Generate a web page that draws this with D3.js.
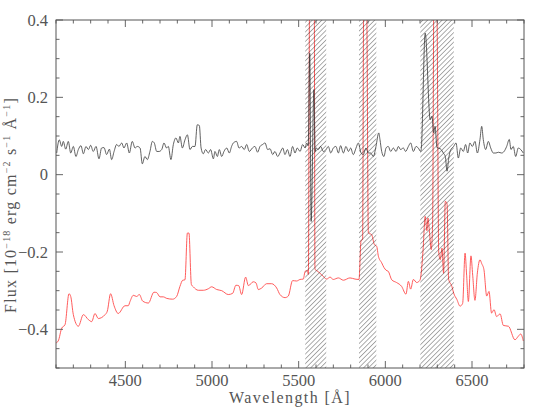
<!DOCTYPE html>
<html>
<head>
<meta charset="utf-8">
<script src="https://cdn.jsdelivr.net/npm/d3@7"></script>
<style>
  body { margin: 0; background: #fff; }
  text { font-family: "Liberation Serif", serif; fill: #555; }
</style>
</head>
<body>
<div id="canvas"></div>
<script>
// Black spectrum (upper)
var waveBlack = [4104, 4119, 4133, 4142, 4156, 4171, 4185, 4200, 4215, 4229, 4244, 4258, 4273, 4287, 4300,
  4315, 4331, 4348, 4363, 4377, 4392, 4408, 4421, 4435, 4450, 4463, 4479, 4492, 4508, 4523, 4540, 4556,
  4569, 4585, 4598, 4613, 4627, 4642, 4656, 4667, 4681, 4694, 4710, 4723, 4738, 4748, 4763, 4777, 4792,
  4806, 4815, 4829, 4844, 4858, 4873, 4887, 4902, 4915, 4927, 4937, 4950, 4963, 4979, 4992, 5008, 5017,
  5031, 5042, 5056, 5069, 5085, 5100, 5113, 5123, 5142, 5156, 5171, 5186, 5200, 5215, 5233, 5248, 5263,
  5277, 5292, 5306, 5321, 5335, 5350, 5363, 5379, 5392, 5408, 5421, 5435, 5450, 5465, 5479, 5492, 5508,
  5523, 5537, 5546, 5555, 5564, 5572, 5588, 5595, 5600, 5613, 5627, 5642, 5658, 5671, 5685, 5700, 5715,
  5729, 5742, 5758, 5773, 5787, 5800, 5815, 5831, 5844, 5860, 5873, 5888, 5902, 5915, 5931, 5946, 5962,
  5969, 5979, 5992, 6004, 6017, 6031, 6046, 6062, 6075, 6088, 6104, 6117, 6133, 6146, 6162, 6177, 6190,
  6204, 6207, 6230, 6259, 6269, 6279, 6287, 6298, 6317, 6336, 6346, 6356, 6365, 6375, 6394, 6408, 6421,
  6435, 6450, 6463, 6475, 6488, 6502, 6517, 6531, 6546, 6556, 6565, 6579, 6594, 6608, 6623, 6638, 6652,
  6671, 6685, 6700, 6715, 6725, 6738, 6752, 6767, 6781, 6796];
var fluxBlack = [0.056, 0.090, 0.073, 0.086, 0.066, 0.086, 0.056, 0.073, 0.047, 0.065, 0.075, 0.054, 0.073, 0.065, 0.076,
  0.060, 0.073, 0.041, 0.069, 0.070, 0.052, 0.066, 0.039, 0.060, 0.078, 0.073, 0.082, 0.069, 0.082, 0.056, 0.086, 0.069,
  0.073, 0.069, 0.028, 0.047, 0.039, 0.060, 0.086, 0.082, 0.060, 0.060, 0.065, 0.082, 0.069, 0.073, 0.039, 0.078, 0.095,
  0.082, 0.099, 0.069, 0.090, 0.103, 0.065, 0.073, 0.073, 0.129, 0.127, 0.069, 0.054, 0.065, 0.056, 0.065, 0.041, 0.060,
  0.047, 0.065, 0.047, 0.060, 0.069, 0.056, 0.073, 0.082, 0.086, 0.069, 0.073, 0.065, 0.078, 0.060, 0.069, 0.073, 0.058,
  0.073, 0.078, 0.082, 0.065, 0.067, 0.052, 0.060, 0.047, 0.056, 0.069, 0.052, 0.065, 0.047, 0.073, 0.056, 0.069, 0.060,
  0.078, 0.069, 0.082, 0.075, 0.314, -0.121, 0.220, 0.060, 0.069, 0.065, 0.073, 0.060, 0.065, 0.073, 0.056, 0.069, 0.073,
  0.056, 0.075, 0.056, 0.073, 0.060, 0.069, 0.052, 0.069, 0.082, 0.056, 0.052, 0.069, 0.056, 0.056, 0.047, 0.073, 0.108,
  0.091, 0.060, 0.047, 0.069, 0.073, 0.060, 0.069, 0.060, 0.073, 0.065, 0.069, 0.060, 0.073, 0.082, 0.060, 0.073, 0.069,
  0.060, 0.065, 0.366, 0.142, 0.151, 0.108, 0.125, 0.070, 0.067, 0.055, 0.047, 0.009, 0.040, 0.062, 0.073, 0.082, 0.043,
  0.069, 0.060, 0.078, 0.056, 0.082, 0.073, 0.086, 0.056, 0.091, 0.125, 0.091, 0.065, 0.086, 0.069, 0.056, 0.056, 0.058,
  0.056, 0.060, 0.073, 0.091, 0.065, 0.073, 0.047, 0.069, 0.065, 0.056];

// Red spectrum (lower)
var waveRed = [4100, 4113, 4133, 4152, 4175, 4185, 4200, 4229, 4258, 4287, 4306, 4325, 4344, 4383, 4396, 4415,
  4435, 4459, 4498, 4517, 4527, 4546, 4565, 4581, 4600, 4633, 4665, 4681, 4700, 4719, 4739, 4773, 4796, 4815,
  4831, 4844, 4858, 4867, 4881, 4892, 4921, 4950, 4979, 4998, 5027, 5056, 5094, 5119, 5138, 5154, 5171, 5194,
  5210, 5238, 5254, 5267, 5287, 5315, 5344, 5373, 5392, 5421, 5440, 5465, 5488, 5508, 5527, 5537, 5550, 5556,
  5563, 5590, 5594, 5604, 5633, 5662, 5681, 5700, 5729, 5758, 5796, 5825, 5848, 5860, 5869, 5875, 5892, 5902,
  5921, 5937, 5950, 5960, 5979, 5992, 6004, 6017, 6037, 6065, 6094, 6119, 6133, 6146, 6162, 6181, 6196, 6202,
  6217, 6230, 6240, 6246, 6254, 6265, 6273, 6280, 6297, 6308, 6317, 6327, 6336, 6346, 6356, 6365, 6384, 6394,
  6413, 6431, 6446, 6460, 6469, 6479, 6494, 6504, 6517, 6531, 6546, 6556, 6569, 6585, 6598, 6613, 6627, 6642,
  6662, 6681, 6710, 6748, 6767, 6781, 6796];
var fluxRed = [-0.435, -0.430, -0.397, -0.388, -0.308, -0.315, -0.362, -0.392, -0.362, -0.375, -0.380, -0.359, -0.372, -0.362, -0.353, -0.308,
  -0.339, -0.359, -0.339, -0.339, -0.328, -0.312, -0.315, -0.310, -0.327, -0.332, -0.304, -0.305, -0.316, -0.316, -0.320, -0.322, -0.315, -0.289,
  -0.273, -0.272, -0.151, -0.151, -0.284, -0.290, -0.299, -0.299, -0.295, -0.290, -0.297, -0.300, -0.310, -0.307, -0.286, -0.287, -0.310, -0.265,
  -0.287, -0.277, -0.280, -0.297, -0.293, -0.282, -0.282, -0.293, -0.310, -0.318, -0.314, -0.274, -0.275, -0.271, -0.270, -0.250, -0.248, -0.258,
  0.45, 0.45, -0.245, -0.248, -0.259, -0.270, -0.265, -0.271, -0.267, -0.273, -0.267, -0.270, -0.271, -0.170, -0.168, 0.45, 0.45, -0.151,
  -0.155, -0.181, -0.185, -0.211, -0.228, -0.240, -0.247, -0.250, -0.272, -0.279, -0.289, -0.309, -0.276, -0.296, -0.271, -0.279, -0.275, -0.270,
  -0.200, -0.108, -0.145, -0.112, -0.145, -0.194, -0.120, 0.45, 0.45, -0.200, -0.220, -0.190, -0.255, -0.069, -0.075, -0.270, -0.289, -0.306,
  -0.323, -0.340, -0.333, -0.203, -0.260, -0.328, -0.210, -0.260, -0.325, -0.254, -0.220, -0.230, -0.246, -0.314, -0.302, -0.358, -0.349, -0.367,
  -0.360, -0.390, -0.392, -0.427, -0.418, -0.412, -0.430];

// Hatched (masked) regions
var bandStart = [5538, 5848, 6202];
var bandEnd = [5659, 5948, 6395];

var xTicks = [4500, 5000, 5500, 6000, 6500];
var yTicks = [0.4, 0.2, 0, -0.2, -0.4];
var yTickLabels = ["0.4", "0.2", "0", "\u22120.2", "\u22120.4"];

function draw() {
  var W = 556, H = 415;
  var mLeft = 56, mRight = 524, mTop = 20, mBottom = 368;

  var svg = d3.select("#canvas").append("svg")
    .attr("width", W)
    .attr("height", H);

  var x = d3.scaleLinear().domain([4100, 6800]).range([mLeft, mRight]);
  var y = d3.scaleLinear().domain([-0.5, 0.4]).range([mBottom, mTop]);

  var defs = svg.append("defs");
  defs.append("clipPath").attr("id", "plotclip")
    .append("rect")
    .attr("x", mLeft).attr("y", mTop)
    .attr("width", mRight - mLeft).attr("height", mBottom - mTop);

  // hatch pattern, "/" direction
  var hatch = defs.append("pattern")
    .attr("id", "hatch")
    .attr("patternUnits", "userSpaceOnUse")
    .attr("width", 3.4)
    .attr("height", 10)
    .attr("patternTransform", "rotate(45)");
  hatch.append("line")
    .attr("x1", 0).attr("y1", 0).attr("x2", 0).attr("y2", 10)
    .style("stroke", "#222")
    .style("stroke-width", 0.8);

  var plot = svg.append("g").attr("clip-path", "url(#plotclip)");

  // Spectra
  var line = d3.line()
    .x(function(d) { return x(d[0]); })
    .y(function(d) { return y(d[1]); })
    .curve(d3.curveMonotoneX);

  plot.append("path")
    .datum(d3.zip(waveRed, fluxRed))
    .attr("d", line)
    .style("fill", "none")
    .style("stroke", "#ff4a4a")
    .style("stroke-width", 0.9);

  plot.append("path")
    .datum(d3.zip(waveBlack, fluxBlack))
    .attr("d", line)
    .style("fill", "none")
    .style("stroke", "#3a3a3a")
    .style("stroke-width", 0.8);

  // Hatched bands
  plot.selectAll("rect.band")
    .data(d3.zip(bandStart, bandEnd))
    .enter().append("rect")
    .attr("class", "band")
    .attr("x", function(d) { return x(d[0]); })
    .attr("y", mTop)
    .attr("width", function(d) { return x(d[1]) - x(d[0]); })
    .attr("height", mBottom - mTop)
    .style("fill", "url(#hatch)");

  // Frame
  var axisColor = "#555";
  svg.append("rect")
    .attr("x", mLeft).attr("y", mTop)
    .attr("width", mRight - mLeft).attr("height", mBottom - mTop)
    .style("fill", "none")
    .style("stroke", axisColor)
    .style("stroke-width", 1);

  // Ticks on all four sides, pointing inward
  var majorLen = 7, minorLen = 3.5;
  var ticks = svg.append("g").style("stroke", axisColor).style("stroke-width", 0.9);

  d3.range(4100, 6801, 100).forEach(function(v) {
    var len = (v % 500 === 0) ? majorLen : minorLen;
    ticks.append("line").attr("x1", x(v)).attr("x2", x(v)).attr("y1", mBottom).attr("y2", mBottom - len);
    ticks.append("line").attr("x1", x(v)).attr("x2", x(v)).attr("y1", mTop).attr("y2", mTop + len);
  });

  d3.range(-10, 9).forEach(function(i) {
    var v = i * 0.05;
    var len = (i % 4 === 0) ? majorLen : minorLen;
    ticks.append("line").attr("y1", y(v)).attr("y2", y(v)).attr("x1", mLeft).attr("x2", mLeft + len);
    ticks.append("line").attr("y1", y(v)).attr("y2", y(v)).attr("x1", mRight).attr("x2", mRight - len);
  });

  // Tick labels
  svg.selectAll("text.xtick")
    .data(xTicks)
    .enter().append("text")
    .attr("class", "xtick")
    .attr("x", function(d) { return x(d); })
    .attr("y", mBottom + 18)
    .attr("text-anchor", "middle")
    .style("font-size", "16.5px")
    .text(function(d) { return d; });

  svg.selectAll("text.ytick")
    .data(yTicks)
    .enter().append("text")
    .attr("class", "ytick")
    .attr("x", mLeft - 8)
    .attr("y", function(d) { return y(d) + 5.5; })
    .attr("text-anchor", "end")
    .style("font-size", "16.5px")
    .text(function(d, i) { return yTickLabels[i]; });

  // Axis titles
  svg.append("text")
    .attr("x", (mLeft + mRight) / 2)
    .attr("y", 403)
    .attr("text-anchor", "middle")
    .style("font-size", "16px")
    .style("letter-spacing", "1.4px")
    .text("Wavelength [\u00c5]");

  var ylab = svg.append("text")
    .attr("transform", "translate(16,205) rotate(-90)")
    .attr("text-anchor", "middle")
    .style("font-size", "16px")
    .style("letter-spacing", "1.2px");

  ylab.append("tspan").text("Flux [10");
  ylab.append("tspan").attr("dy", -6).style("font-size", "10px").text("\u221218");
  ylab.append("tspan").attr("dy", 6).text(" erg cm");
  ylab.append("tspan").attr("dy", -6).style("font-size", "10px").text("\u22122");
  ylab.append("tspan").attr("dy", 6).text(" s");
  ylab.append("tspan").attr("dy", -6).style("font-size", "10px").text("\u22121");
  ylab.append("tspan").attr("dy", 6).text(" \u00c5");
  ylab.append("tspan").attr("dy", -6).style("font-size", "10px").text("\u22121");
  ylab.append("tspan").attr("dy", 6).text("]");
}

draw();
</script>
</body>
</html>
